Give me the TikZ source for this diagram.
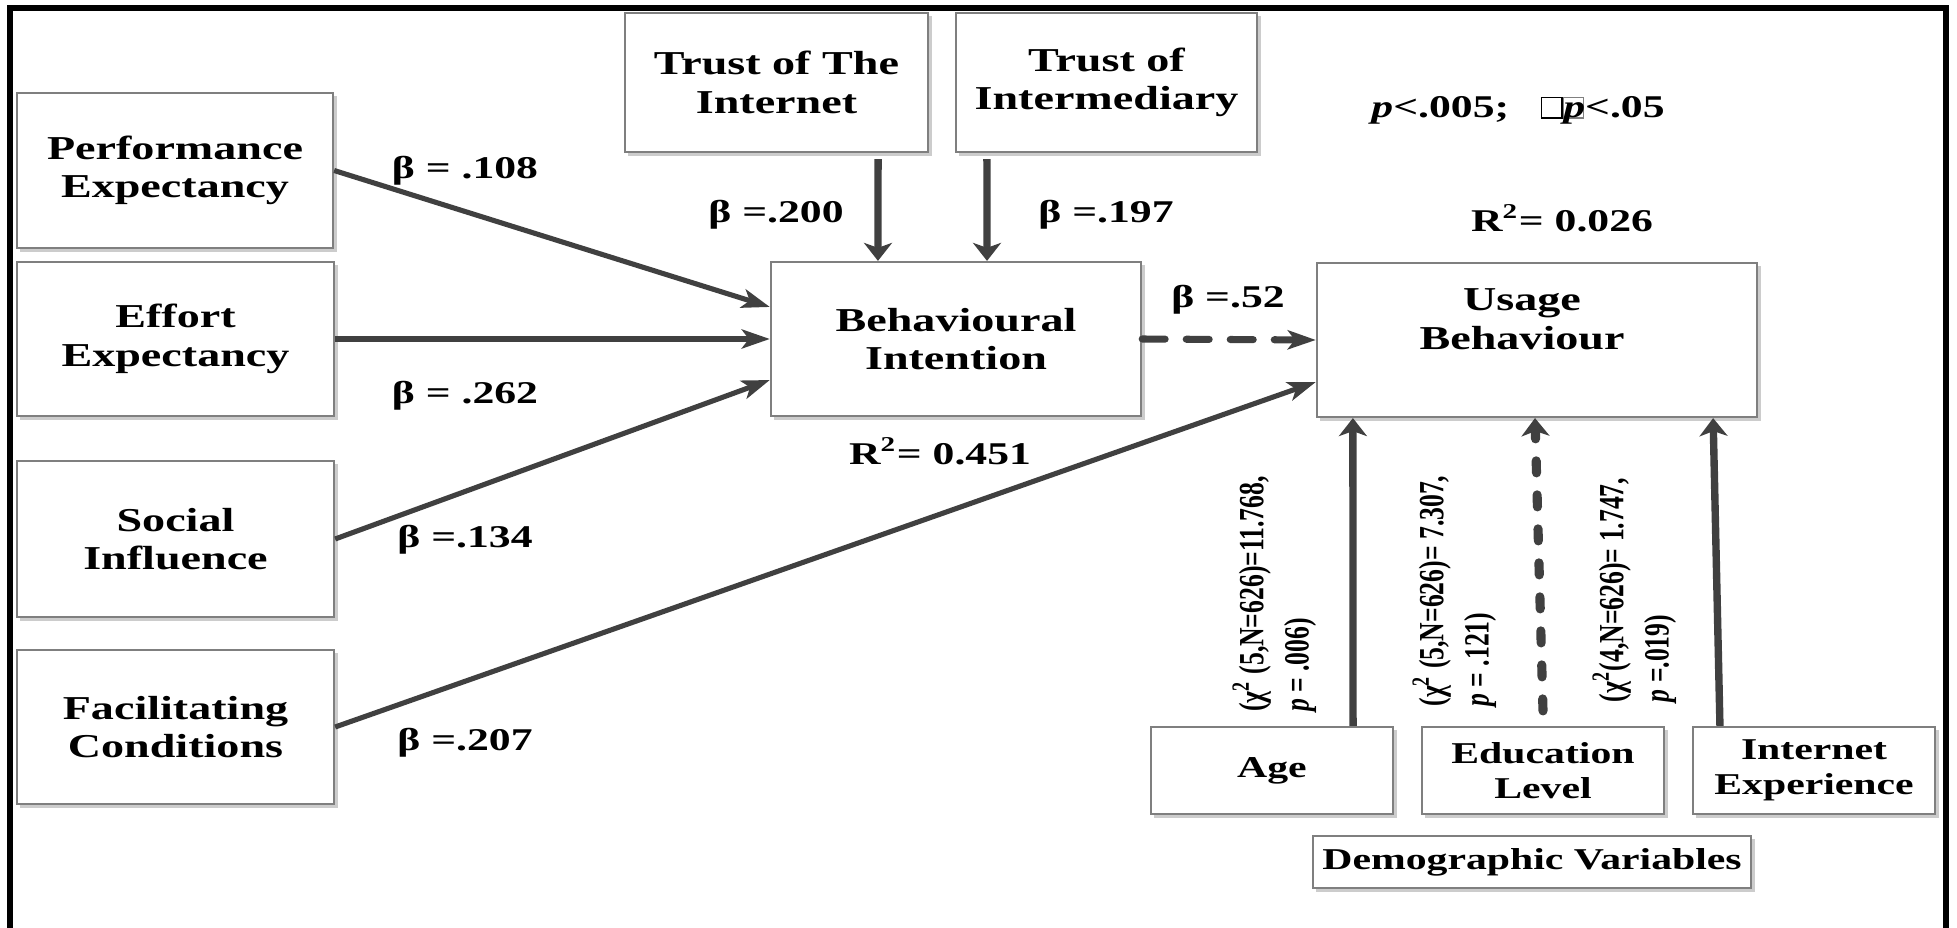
\documentclass[tikz,border=0pt]{standalone}
\usepackage{fontspec}
\usepackage{graphicx}
\usetikzlibrary{arrows.meta,shadows}
\newfontfamily\wideserif{Liberation Serif}[FakeStretch=1.38]
\newfontfamily\plainserif{Liberation Serif}
\definecolor{arrowgray}{HTML}{404040}
\definecolor{boxgray}{HTML}{7F7F7F}
\newcommand{\hollowbox}[1]{\textcolor{#1}{\fboxsep=0pt\fboxrule=0.4pt\fbox{\rule{0pt}{5.4pt}\hspace{5.4pt}}}}
\newcommand{\rotlabel}[2]{\scalebox{1}[1.38]{\plainserif\bfseries\fontsize{7.3}{9.3}\selectfont\begin{tabular}{@{}l@{}}#1\\#2\end{tabular}}}
\begin{document}
\begin{tikzpicture}[x=0.01cm,y=-0.01cm,
  box/.style={draw=boxgray, line width=0.6pt, fill=white, align=center, inner sep=0pt,
    font=\wideserif\bfseries\fontsize{9.5}{11}\selectfont,
    drop shadow={shadow xshift=0.035cm, shadow yshift=-0.035cm, fill=black!40, opacity=0.5}},
  smallbox/.style={box, font=\wideserif\bfseries\fontsize{8.6}{10}\selectfont},
  lbl/.style={inner sep=0pt, font=\wideserif\bfseries\fontsize{9}{11}\selectfont},
  rot/.style={rotate=90, inner sep=0pt},
  conn/.style={draw=arrowgray, line width=1.45pt, -{Stealth[length=0.28cm,width=0.19cm,inset=0.07cm]}},
  vconn/.style={draw=arrowgray, line width=2.1pt, -{Stealth[length=0.18cm,width=0.28cm,inset=0.05cm]}},
  dashh/.style={line width=2pt, dash pattern=on 0.23cm off 0.21cm, line cap=round},
  dashv/.style={line width=2.6pt, dash pattern=on 0.12cm off 0.22cm, line cap=round}
]
\useasboundingbox (0,0) rectangle (1957,928);
% frame (open at the bottom)
\draw[line width=0.06cm, black] (10,928) -- (10,8) -- (1946,8) -- (1946,928);

% boxes
\node[box, minimum width=3.16cm, minimum height=1.55cm] (PE) at (175,170.5) {Performance\\Expectancy};
\node[box, minimum width=3.17cm, minimum height=1.54cm] (EE) at (175.5,339) {Effort\\Expectancy};
\node[box, minimum width=3.17cm, minimum height=1.56cm] (SI) at (175.5,539) {Social\\Influence};
\node[box, minimum width=3.17cm, minimum height=1.54cm] (FC) at (175.5,727) {Facilitating\\Conditions};
\node[box, minimum width=3.03cm, minimum height=1.39cm] (TI) at (776.5,82.5) {Trust of The\\Internet};
\node[box, minimum width=3.01cm, minimum height=1.39cm] (TM) at (1106.5,82.5) {Trust of\\Intermediary};
\node[box, minimum width=3.70cm, minimum height=1.54cm] (BI) at (956,339) {Behavioural\\Intention};
\node[box, minimum width=4.40cm, minimum height=1.54cm, text depth=0.42cm] (UB) at (1537,340) {Usage\hspace*{0.3cm}\\Behaviour\hspace*{0.3cm}};
\node[smallbox, minimum width=2.42cm, minimum height=0.87cm] (AG) at (1272,770.5) {Age};
\node[smallbox, minimum width=2.42cm, minimum height=0.87cm] (ED) at (1543,770.5) {Education\\Level};
\node[smallbox, minimum width=2.42cm, minimum height=0.87cm] (IE) at (1814,770.5) {Internet\\Experience};
\node[smallbox, minimum width=4.38cm, minimum height=0.52cm] (DV) at (1532,862) {Demographic Variables};

% labels
\node[lbl] (b108) at (465,171) {β = .108};
\node[lbl] (b200) at (776,215) {β =.200};
\node[lbl] (b197) at (1106,215) {β =.197};
\node[lbl] (b52) at (1228,300) {β =.52};
\node[lbl] (b262) at (465,396) {β = .262};
\node[lbl] (b134) at (465,540) {β =.134};
\node[lbl] (b207) at (465,743) {β =.207};
\node[lbl] (r451) at (940,451) {R\textsuperscript{2}= 0.451};
\node[lbl] (r026) at (1562,218) {R\textsuperscript{2}= 0.026};
\node[lbl] (pval) at (1518,110) {\textit{p}<.005;\hspace{9pt}\hollowbox{black}\hollowbox{gray}\kern-6pt\textit{p}<.05};

% rotated chi-square labels
\node[rot] (chiAG) at (1277,594) {\rotlabel{(χ\textsuperscript{2} (5,N=626)=11.768,}{\textit{p} = .006)}};
\node[rot] (chiED) at (1457,591) {\rotlabel{(χ\textsuperscript{2} (5,N=626)= 7.307,}{\textit{p} = .121)}};
\node[rot] (chiIE) at (1637,590) {\rotlabel{(χ\textsuperscript{2}(4,N=626)= 1.747,}{\textit{p} =.019)}};

% connectors
\draw[conn] (PE.east) -- ([yshift=0.32cm]BI.west);
\draw[conn] (EE.east) -- (BI.west);
\draw[conn] (SI.east) -- ([yshift=-0.41cm]BI.west);
\draw[conn] (FC.east) -- ([yshift=-0.42cm]UB.west);
\draw[vconn] ([xshift=1.015cm,yshift=-0.06cm]TI.south) -- ([xshift=-0.78cm]BI.north);
\draw[vconn] ([xshift=-1.195cm,yshift=-0.06cm]TM.south) -- ([xshift=0.31cm]BI.north);
\draw[conn, dashh] (BI.east) -- (UB.west);
\draw[vconn] ([xshift=0.81cm]AG.north) -- ([xshift=-1.84cm]UB.south);
\draw[vconn, dashv] ([yshift=0.15cm]ED.north) -- ([xshift=-0.02cm]UB.south);
\draw[vconn] ([xshift=-0.94cm]IE.north) -- ([xshift=1.76cm]UB.south);
\end{tikzpicture}
\end{document}
